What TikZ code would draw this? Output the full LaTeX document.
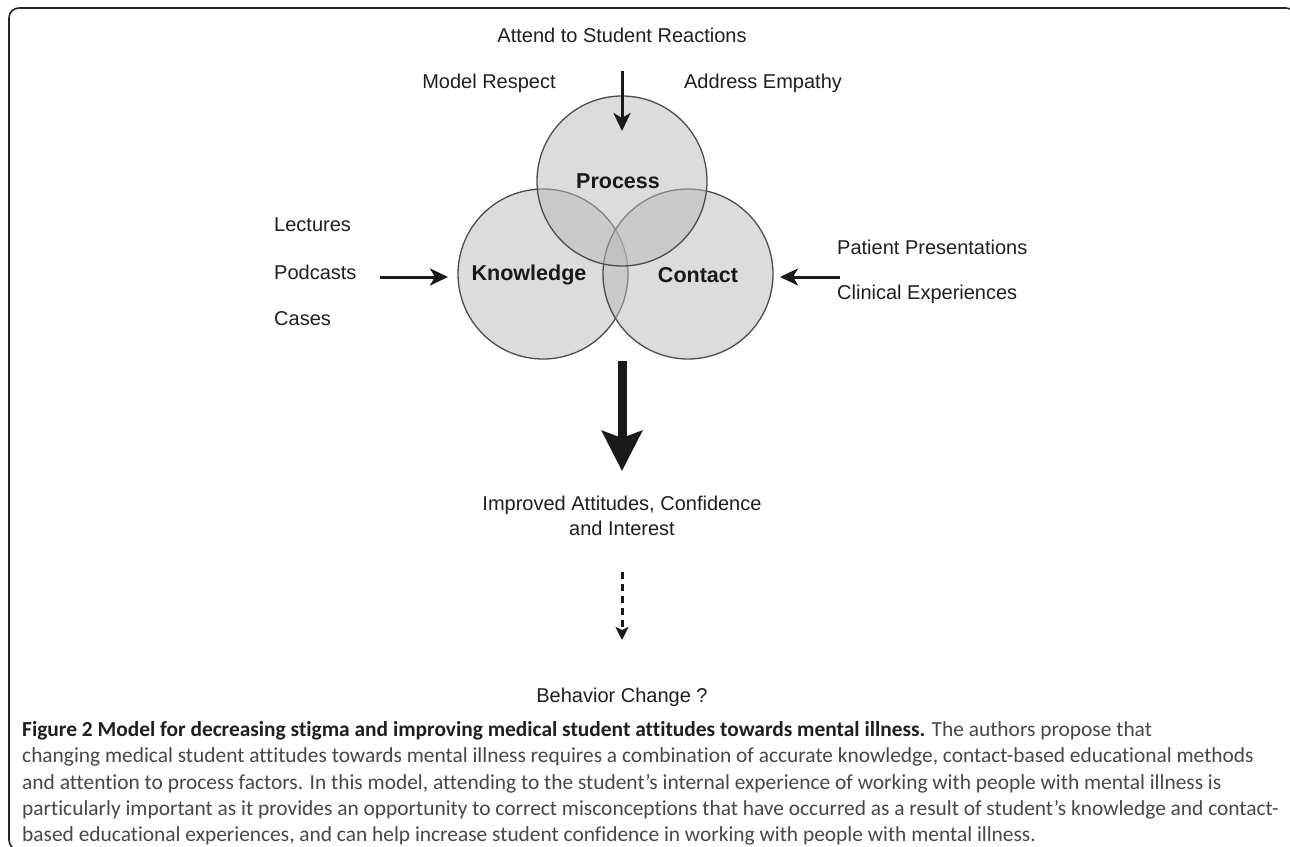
\documentclass[tikz,border=0pt]{standalone}
\usepackage{fontspec}
\setmainfont{Liberation Sans}
\newfontfamily\capfont[Ligatures=NoCommon]{Carlito}
\usetikzlibrary{arrows.meta}
\begin{document}
\begin{tikzpicture}[x=1pt,y=-1pt,
  lbl/.style={font=\fontsize{20}{24}\selectfont, text=black!88, inner sep=0pt},
  ttl/.style={font=\fontsize{21.5}{26}\selectfont\bfseries, text=black!90, inner sep=0pt},
  venn/.style={circle, minimum size=170pt, inner sep=0pt, draw=black!70, line width=1.3pt,
    fill=black!27, fill opacity=0.5, draw opacity=1},
  thinarrow/.style={line width=3pt, draw=black!90, -{Stealth[length=18pt,width=17pt,inset=5pt]}},
  bigarrow/.style={line width=9pt, draw=black!90, -{Stealth[length=40pt,width=40pt,inset=7pt]}},
  dasharrow/.style={line width=3pt, draw=black!90, dash pattern=on 7pt off 5pt, -{Stealth[length=13pt,width=13pt,inset=3pt]}},
  capline/.style={anchor=base west, inner sep=0pt, font=\capfont\fontsize{21.4}{25}\selectfont, text=black!72},
  frame/.style={line width=1.6pt, draw=black!85, rounded corners=10pt}
]
\useasboundingbox (0,0) rectangle (1290,846);
\clip (0,0) rectangle (1290,846);
\fill[white] (0,0) rectangle (1290,846);
\draw[frame] (1296,850) -- (9,850) -- (9,8) -- (1296,8) -- (1296,850);

% circles
\node[venn] (K) at (543,274) {};
\node[venn] (C) at (688,274) {};
\node[venn] (P) at (622,181) {};

\node[ttl] (tP) at (618,181) {Process};
\node[ttl] (tK) at (529,275) {Knowledge};
\node[ttl] (tC) at (698,275) {Contact};

% top labels
\node[lbl] (att) at (622,35) {Attend to Student Reactions};
\node[lbl] (resp) at (489,83) {Model Respect};
\node[lbl] (emp) at (763,83) {Address Empathy};

% left labels
\node[lbl, anchor=west] (lec) at (274,225) {Lectures};
\node[lbl, anchor=west] (pod) at (274,272) {Podcasts};
\node[lbl, anchor=west] (cas) at (274,319) {Cases};

% right labels
\node[lbl, anchor=west] (pat) at (837,247) {Patient Presentations};
\node[lbl, anchor=west] (cli) at (837,294) {Clinical Experiences};

% outcomes
\node[lbl, align=center, font=\fontsize{20}{25}\selectfont] (imp) at (622,516) {Improved Attitudes, Confidence\\and Interest};
\node[lbl] (beh) at (622,697) {Behavior Change ?};

% arrows
\coordinate (topS) at (622,71);
\coordinate (topE) at (622,131);
\draw[thinarrow] (topS) -- (topE);
\coordinate (leftS) at (380,277);
\coordinate (leftE) at (448,277);
\draw[thinarrow] (leftS) -- (leftE);
\coordinate (rightS) at (840,277);
\coordinate (rightE) at (780,277);
\draw[thinarrow] (rightS) -- (rightE);
\coordinate (bigS) at (622,361);
\coordinate (bigE) at (622,471);
\draw[bigarrow] (bigS) -- (bigE);
\coordinate (dS) at (622,572);
\coordinate (dE) at (622,640);
\draw[dasharrow] (dS) -- (dE);

% caption
\node[capline] (c1) at (22,736) {\textbf{\color{black!88}Figure 2 Model for decreasing stigma and improving medical student attitudes towards mental illness.} The authors propose that};
\node[capline] (c2) at (22,762.5) {changing medical student attitudes towards mental illness requires a combination of accurate knowledge, contact-based educational methods};
\node[capline] (c3) at (22,789) {and attention to process factors. In this model, attending to the student’s internal experience of working with people with mental illness is};
\node[capline] (c4) at (22,815.5) {particularly important as it provides an opportunity to correct misconceptions that have occurred as a result of student’s knowledge and contact-};
\node[capline] (c5) at (22,841) {based educational experiences, and can help increase student confidence in working with people with mental illness.};
\end{tikzpicture}
\end{document}
